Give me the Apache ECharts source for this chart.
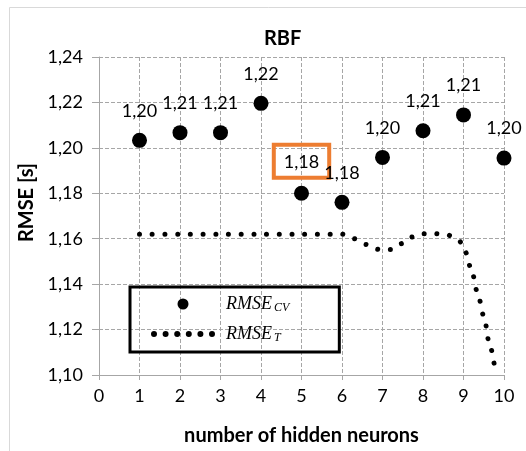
<!DOCTYPE html>
<html>
<head>
<meta charset="utf-8">
<script src="https://cdn.jsdelivr.net/npm/echarts@6/dist/echarts.min.js"></script>
<style>
  html, body { margin: 0; padding: 0; background: #fff; }
  #chart { width: 526px; height: 451px; }
</style>
</head>
<body>
<div id="chart"></div>
<script>
// hidden neurons and cross-validation RMSE
const neurons = [1, 2, 3, 4, 5, 6, 7, 8, 9, 10];
const rmseCV = [1.2033, 1.2067, 1.2067, 1.2196, 1.1800, 1.1760, 1.1958, 1.2075, 1.2145, 1.1955];

// training RMSE curve, x / y pairs
const trainX = [1, 2, 3, 4, 5, 6, 6.3, 6.6, 6.9, 7.2, 7.45, 7.7, 8, 8.3, 8.6, 8.9, 9.05, 9.2, 9.35, 9.5, 9.65, 9.8];
const trainY = [1.162, 1.162, 1.162, 1.162, 1.162, 1.162, 1.160, 1.1575, 1.1553, 1.1553, 1.1578, 1.1607, 1.1622, 1.1622, 1.1617, 1.159, 1.154, 1.146, 1.136, 1.126, 1.113, 1.100];

const highlighted = 4; // the label framed in orange

const font = 'Lato';
const fmt = v => v.toFixed(2).replace('.', ',');

// six dots used as the legend icon of the dotted line
let dots = '';
for (let i = 0; i < 6; i++) {
  const cx = 3 + i * 11.6;
  dots += 'M' + (cx - 3) + ',3 a3,3 0 1,0 6,0 a3,3 0 1,0 -6,0 Z ';
}

const cvData = neurons.map((n, i) => {
  const item = { value: [n, rmseCV[i]] };
  if (i === highlighted) {
    item.label = {
      borderColor: '#ED7D31', borderWidth: 4, padding: [8, 10, 7, 10], distance: 8
    };
  }
  return item;
});

const trainData = trainX.map((x, i) => [x, trainY[i]]);

const myChart = echarts.init(document.getElementById('chart'));
const option = {
  backgroundColor: '#fff',
  animation: false,
  title: {
    text: 'RBF',
    left: 259,
    top: 24,
    textStyle: { fontFamily: font, fontWeight: 'bold', fontSize: 20, color: '#000' }
  },
  graphic: [{
    type: 'rect',
    shape: { x: 9.5, y: 7.5, width: 700, height: 700 },
    style: { fill: 'none', stroke: '#d9d9d9', lineWidth: 1 },
    z: -1
  }],
  grid: { left: 99, right: 22, top: 57, bottom: 72 },
  legend: {
    orient: 'vertical',
    left: 130,
    top: 287,
    padding: [8, 50, 8, 21],
    borderColor: '#000',
    borderWidth: 3,
    itemWidth: 64,
    itemHeight: 11,
    itemGap: 11,
    data: [
      { name: 'RMSE_CV', icon: 'circle' },
      { name: 'RMSE_T', icon: 'path://' + dots }
    ],
    formatter: name => name === 'RMSE_CV' ? '{m|RMSE}{s|CV}' : '{m|RMSE}{s|T}',
    textStyle: {
      color: '#000',
      rich: {
        m: { fontFamily: 'Liberation Serif', fontStyle: 'italic', fontSize: 18, lineHeight: 20, padding: [0, 0, 0, 6] },
        s: { fontFamily: 'Liberation Serif', fontStyle: 'italic', fontSize: 12, verticalAlign: 'bottom', padding: [0, 0, 0, 2] }
      }
    }
  },
  xAxis: {
    type: 'value',
    min: 0,
    max: 10,
    interval: 1,
    name: 'number of hidden neurons',
    nameLocation: 'middle',
    nameGap: 51,
    nameTextStyle: { fontFamily: font, fontWeight: 'bold', fontSize: 20, color: '#000' },
    axisLine: { show: true, lineStyle: { color: '#a6a6a6', width: 1 } },
    axisTick: { show: true, length: 5, lineStyle: { color: '#a6a6a6' } },
    axisLabel: { fontFamily: font, fontSize: 18, color: '#000', margin: 12 },
    splitLine: { show: true, lineStyle: { color: '#a6a6a6', type: [4, 2] } }
  },
  yAxis: {
    type: 'value',
    min: 1.10,
    max: 1.24,
    interval: 0.02,
    name: 'RMSE [s]',
    nameLocation: 'middle',
    nameGap: 58,
    nameTextStyle: { fontFamily: font, fontWeight: 'bold', fontSize: 20, color: '#000', padding: [0, 0, 0, 27] },
    axisLine: { show: true, lineStyle: { color: '#a6a6a6', width: 1 } },
    axisTick: { show: true, length: 7, lineStyle: { color: '#a6a6a6' } },
    axisLabel: { fontFamily: font, fontSize: 18, color: '#000', margin: 16, formatter: fmt },
    splitLine: { show: true, lineStyle: { color: '#a6a6a6', type: [4, 2] } }
  },
  series: [
    {
      name: 'RMSE_CV',
      type: 'scatter',
      symbol: 'circle',
      symbolSize: 15,
      itemStyle: { color: '#000', opacity: 1 },
      data: cvData,
      z: 3,
      label: {
        show: true,
        position: 'top',
        distance: 13,
        fontFamily: font,
        fontSize: 18,
        color: '#000',
        formatter: p => fmt(p.value[1])
      }
    },
    {
      name: 'RMSE_T',
      type: 'line',
      symbol: 'none',
      smooth: 0.3,
      smoothMonotone: 'x',
      itemStyle: { color: '#000' },
      lineStyle: { color: '#000', width: 5, type: [0.01, 12.7], cap: 'round' },
      data: trainData,
      z: 2
    }
  ]
};

option && myChart.setOption(option);
</script>
</body>
</html>
